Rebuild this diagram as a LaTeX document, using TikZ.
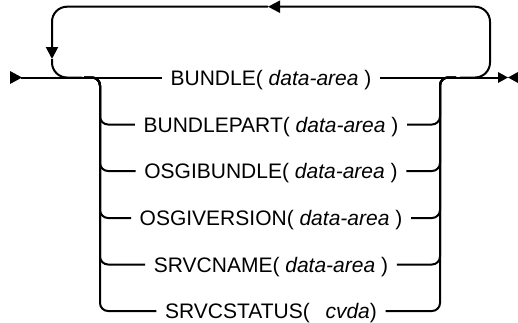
\documentclass[tikz,border=0pt]{standalone}
\usepackage{fontspec}
\setmainfont{Liberation Sans}
\usetikzlibrary{arrows.meta}
\begin{document}
\begin{tikzpicture}[x=1pt,y=-1pt,
  rail/.style={line width=2pt, rounded corners=8pt},
  looprail/.style={line width=2pt, rounded corners=15pt},
  lbl/.style={font=\fontsize{21}{25}\selectfont, inner xsep=8.5pt, inner ysep=0pt, text height=15pt, text depth=0pt},
  tipped/.style={-{Triangle[length=12pt,width=12pt]}}
]
\useasboundingbox (0,0) rectangle (518,322);
% junctions
\coordinate (start) at (21,77.5);
\coordinate (endp) at (503,77.5);
\coordinate (jl) at (84,77.5);
\coordinate (jr) at (456,77.5);
\coordinate (lv) at (100,0);
\coordinate (rv) at (440,0);
\coordinate (loopin) at (460,77.5);
\coordinate (loopout) at (82,77.5);
\coordinate (toptip) at (268,6.7);
\coordinate (lefttip) at (52,59);
\coordinate (rightx) at (490,6.7);
% labels
\node[lbl] (t1) at (271,77.5) {BUNDLE( \textit{data-area} )};
\node[lbl] (t2) at (271,124.5) {BUNDLEPART( \textit{data-area} )};
\node[lbl] (t3) at (271,171) {OSGIBUNDLE( \textit{data-area} )};
\node[lbl] (t4) at (271,218) {OSGIVERSION( \textit{data-area} )};
\node[lbl] (t5) at (271,264.5) {SRVCNAME( \textit{data-area} )};
\node[lbl] (t6) at (271,311) {SRVCSTATUS(\hspace{0.75em}\textit{cvda})};
% main line
\draw[rail] (start) -- (t1.west);
\draw[rail] (t1.east) -- (endp);
% branches
\foreach \t in {t2,t3,t4,t5,t6}{
  \draw[rail] (jl) -| (\t.west -| lv) -- (\t.west);
  \draw[rail] (\t.east) -| (jr -| rv) -- (jr);
}
% repeat loop
\draw[looprail,tipped] (loopin) -| (rightx) -- (toptip);
\draw[looprail,tipped] (toptip) -| (lefttip);
\draw[looprail] (lefttip) |- (loopout);
% start and end markers
\fill (10,71) -- (22,77.5) -- (10,84) -- cycle;
\fill (498,72) -- (508,77.5) -- (498,83) -- cycle;
\fill (518,72) -- (508,77.5) -- (518,83) -- cycle;
\end{tikzpicture}
\end{document}
